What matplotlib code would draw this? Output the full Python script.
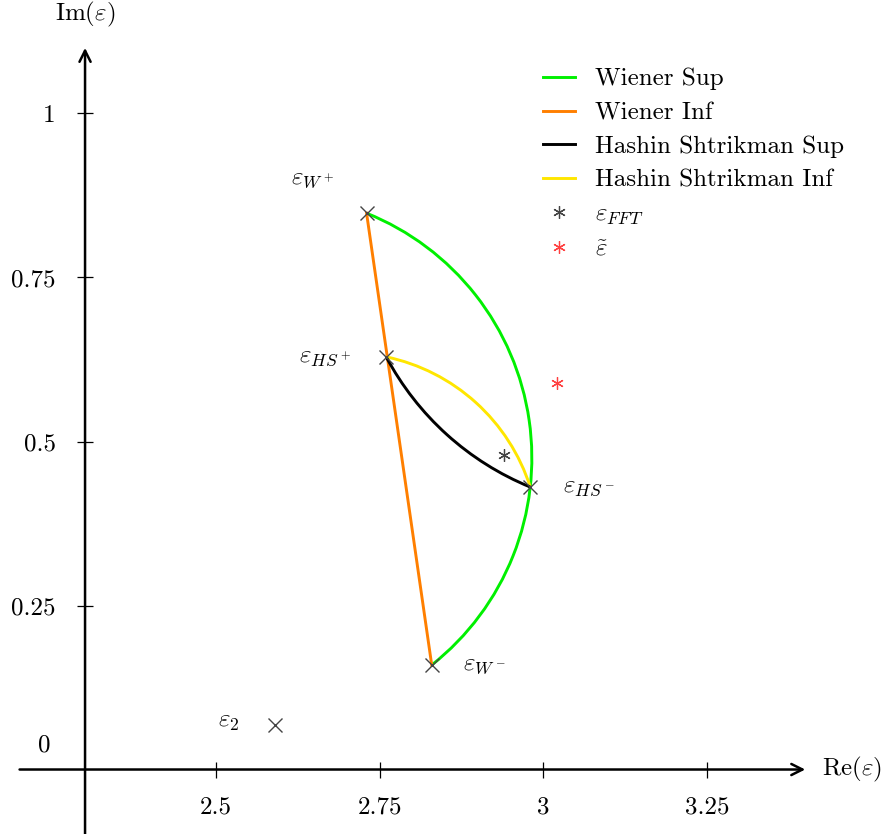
import matplotlib.pyplot as plt
from matplotlib.patches import Arc
from matplotlib.lines import Line2D
import numpy as np

plt.rcParams['font.family'] = 'serif'
plt.rcParams['font.serif'] = ['cmr10']
plt.rcParams['mathtext.fontset'] = 'cm'
plt.rcParams['axes.unicode_minus'] = False
plt.rcParams['axes.formatter.use_mathtext'] = True

# bound points (Re, Im)
pt_labels = [r'$\varepsilon_{W^+}$', r'$\varepsilon_{HS^+}$', r'$\varepsilon_{HS^-}$',
             r'$\varepsilon_{W^-}$', r'$\varepsilon_2$']
pt_re = [2.730, 2.760, 2.980, 2.8295, 2.590]
pt_im = [0.848, 0.629, 0.4306, 0.1593, 0.0678]
pt_offsets = [(-39, 25), (-44, 0), (42, 0), (38, 0), (-33, 2)]  # label offsets in points

# a point read on each curved bound, between its two end points
wiener_sup_mid = (2.980, 0.4306)
hs_sup_mid = (2.8467, 0.516)
hs_inf_mid = (2.8982, 0.5582)

# homogenised values
fft_re, fft_im = [2.940], [0.4794]
tilde_re, tilde_im = [3.0204], [0.5896]

xticks = [2.5, 2.75, 3, 3.25]
xticklabels = ['2.5', '2.75', '3', '3.25']
yticks = [0.25, 0.5, 0.75, 1]
yticklabels = ['0.25', '0.5', '0.75', '1']

c_green = '#00f000'
c_orange = '#ff7f00'
c_black = 'black'
c_yellow = '#ffe600'
c_fft = '#444444'
c_tilde = '#ff4040'
fs = 18


def arc_through(ax, p0, pm, p1, **kw):
    # circle arc from p0 to p1 passing by pm
    (x1, y1), (x2, y2), (x3, y3) = p0, pm, p1
    d = 2 * (x1 * (y2 - y3) + x2 * (y3 - y1) + x3 * (y1 - y2))
    ux = ((x1**2 + y1**2) * (y2 - y3) + (x2**2 + y2**2) * (y3 - y1) + (x3**2 + y3**2) * (y1 - y2)) / d
    uy = ((x1**2 + y1**2) * (x3 - x2) + (x2**2 + y2**2) * (x1 - x3) + (x3**2 + y3**2) * (x2 - x1)) / d
    r = np.hypot(x1 - ux, y1 - uy)
    a0, am, a1 = [np.degrees(np.arctan2(y - uy, x - ux)) % 360 for x, y in (p0, pm, p1)]
    if (am - a0) % 360 < (a1 - a0) % 360:
        t1, t2 = a0, a1
    else:
        t1, t2 = a1, a0
    ax.add_patch(Arc((ux, uy), 2 * r, 2 * r, theta1=t1, theta2=t2, **kw))


fig = plt.figure(figsize=(8.87, 8.34), dpi=100)
ax = fig.add_axes([0, 0, 1, 1])
ax.set_xlim(2.1701, 3.5249)
ax.set_ylim(-0.0983, 1.1730)

# axes drawn in the middle, with arrows
for s in ['top', 'right', 'left', 'bottom']:
    ax.spines[s].set_visible(False)
ax.spines['left'].set_position(('data', 2.3))
ax.spines['bottom'].set_position(('data', 0))
arrow = dict(arrowstyle='->', lw=1.8, color='black', shrinkA=0, shrinkB=0, mutation_scale=20)
ax.annotate('', xy=(3.4, 0), xytext=(2.2, 0), arrowprops=arrow)
ax.annotate('', xy=(2.3, 1.1), xytext=(2.3, -0.2), arrowprops=arrow)

ax.set_xticks(xticks)
ax.set_xticklabels(xticklabels)
ax.set_yticks(yticks)
ax.set_yticklabels(yticklabels)
ax.tick_params(direction='inout', length=12, width=0.9, labelsize=fs)
ax.tick_params(axis='x', pad=13)
ax.tick_params(axis='y', pad=15)
ax.annotate('0', xy=(2.3, 0), xytext=(-29.5, 17.5), textcoords='offset points',
            ha='center', va='center', fontsize=fs)
ax.annotate(r'Re$(\varepsilon)$', xy=(3.4, 0), xytext=(12, 0), textcoords='offset points',
            ha='left', va='center', fontsize=fs)
ax.annotate(r'Im$(\varepsilon)$', xy=(2.3, 1.1), xytext=(0, 24), textcoords='offset points',
            ha='center', va='center', fontsize=fs)

# bounds
w_plus = (pt_re[0], pt_im[0])
hs_plus = (pt_re[1], pt_im[1])
hs_minus = (pt_re[2], pt_im[2])
w_minus = (pt_re[3], pt_im[3])
arc_through(ax, w_plus, wiener_sup_mid, w_minus, color=c_green, lw=2.1, zorder=2)
ax.plot([w_plus[0], w_minus[0]], [w_plus[1], w_minus[1]], color=c_orange, lw=2.1, zorder=2)
arc_through(ax, hs_plus, hs_sup_mid, hs_minus, color=c_black, lw=2.1, zorder=3)
arc_through(ax, hs_plus, hs_inf_mid, hs_minus, color=c_yellow, lw=2.1, zorder=2)

ax.plot(pt_re, pt_im, 'x', color='#444444', ms=10, mew=1.0, zorder=4)
for lab, x, y, off in zip(pt_labels, pt_re, pt_im, pt_offsets):
    ax.annotate(lab, xy=(x, y), xytext=off, textcoords='offset points',
                ha='center', va='center', fontsize=fs)

star = (6, 2, 0)
ax.plot(fft_re, fft_im, ls='none', marker=star, color=c_fft, ms=9, mew=0.9, zorder=4)
ax.plot(tilde_re, tilde_im, ls='none', marker=star, color=c_tilde, ms=9, mew=0.9, zorder=4)

handles = [
    Line2D([], [], color=c_green, lw=2.1),
    Line2D([], [], color=c_orange, lw=2.1),
    Line2D([], [], color=c_black, lw=2.1),
    Line2D([], [], color=c_yellow, lw=2.1),
    Line2D([], [], ls='none', marker=star, color=c_fft, ms=9, mew=0.9),
    Line2D([], [], ls='none', marker=star, color=c_tilde, ms=9, mew=0.9),
]
names = ['Wiener Sup', 'Wiener Inf', 'Hashin Shtrikman Sup', 'Hashin Shtrikman Inf',
         r'$\varepsilon_{FFT}$', r'$\tilde{\varepsilon}$']
ax.legend(handles, names, loc='upper left', bbox_to_anchor=(543 / 887, 1 - 68 / 834),
          frameon=False, fontsize=fs, handlelength=1.3, handletextpad=0.8,
          labelspacing=0.45, borderpad=0, borderaxespad=0)

fig.savefig('out.png', dpi=100)
